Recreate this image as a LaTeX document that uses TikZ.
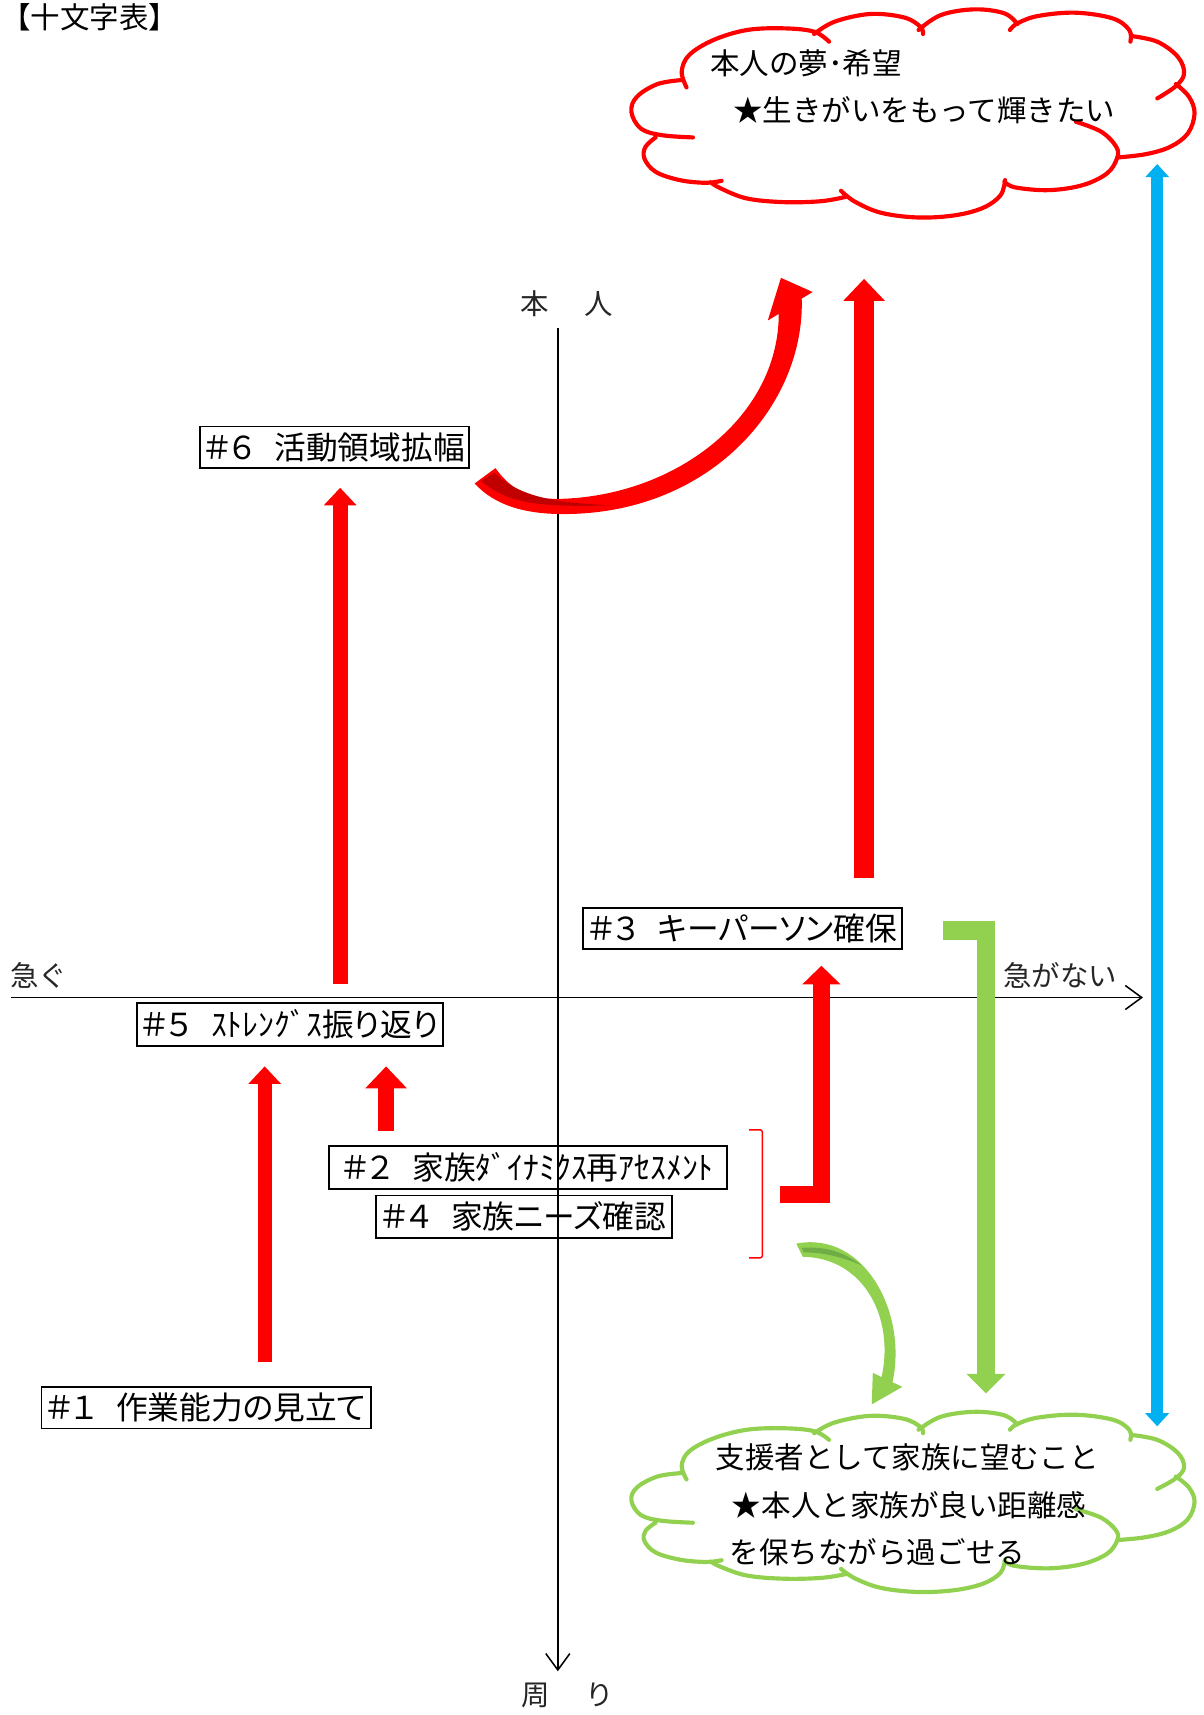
\documentclass[tikz,border=0pt]{standalone}
\usepackage{fontspec}
\setmainfont{Noto Sans CJK JP}
\newfontfamily\propfont[RawFeature={+palt}]{Noto Sans CJK JP}
\usetikzlibrary{arrows.meta}
\definecolor{cred}{RGB}{255,0,0}
\definecolor{cdred}{RGB}{192,0,0}
\definecolor{cgreen}{RGB}{146,208,80}
\definecolor{cdgreen}{RGB}{112,173,71}
\definecolor{cblue}{RGB}{0,176,240}
\newcommand{\cloudpuffs}{%
  plot[smooth,tension=0.6] coordinates {(165,240) (100,252) (45,290) (30,335) (55,385) (110,405) (195,412)}
  plot[smooth,tension=0.6] coordinates {(178,262) (165,215) (185,165) (250,120) (340,90) (440,85) (520,95) (560,125)}
  plot[smooth,tension=0.6] coordinates {(520,102) (575,65) (670,42) (760,52) (805,80) (812,102)}
  plot[smooth,tension=0.6] coordinates {(800,90) (860,45) (950,28) (1030,40) (1065,72)}
  plot[smooth,tension=0.6] coordinates {(1045,90) (1065,70) (1120,48) (1220,38) (1320,55) (1365,90) (1368,125)}
  plot[smooth,tension=0.6] coordinates {(1370,108) (1440,125) (1495,170) (1512,220) (1490,258) (1440,295)}
  plot[smooth,tension=0.6] coordinates {(1490,252) (1525,290) (1540,340) (1522,400) (1475,440) (1410,462) (1335,472)}
  plot[smooth,tension=0.6] coordinates {(1222,365) (1290,395) (1330,440) (1332,475) (1305,520) (1240,555) (1150,570) (1060,562) (1030,545)}
  plot[smooth,tension=0.6] coordinates {(1032,540) (1020,585) (975,622) (900,645) (800,652) (700,638) (630,605) (592,572)}
  plot[smooth,tension=0.6] coordinates {(605,590) (540,603) (440,606) (340,595) (270,565) (242,546)}
  plot[smooth,tension=0.6] coordinates {(95,412) (68,440) (65,475) (95,515) (160,540) (230,548) (272,542)}}
\newcommand{\tgap}{\hspace{18pt}}
\begin{document}
\begin{tikzpicture}[x=1pt,y=-1pt,
  txt/.style={inner sep=0pt, font=\fontsize{27}{30}\selectfont},
  axislbl/.style={inner sep=0pt, font=\fontsize{26}{30}\selectfont, text=black!85},
  taskbox/.style={draw=black, line width=1.7pt, inner sep=0pt, minimum height=38pt, font=\propfont\fontsize{29}{32}\selectfont},
  axisline/.style={line width=1.4pt, -{Straight Barb[length=15pt,width=22pt,line width=1.4pt]}},
  blk/.style n args={4}{draw=#1, line width=#2, line cap=butt, line join=miter,
     -{Triangle[length=#4,width=#3,line width=0pt,fill=#1]}},
  dblblk/.style n args={4}{draw=#1, line width=#2, line cap=butt,
     {Triangle[length=#4,width=#3,line width=0pt,fill=#1]}-{Triangle[length=#4,width=#3,line width=0pt,fill=#1]}},
  cloudline/.style={draw=#1, line width=3.8pt, line cap=round, line join=round}
]
\useasboundingbox (0,0) rectangle (1100,1568);

% title
\node[inner sep=0pt, anchor=west, font=\fontsize{27}{30}\selectfont] (title) at (1,16) {【十文字表】};

% axes
\coordinate (vtop) at (510,300);
\coordinate (vbot) at (510,1528);
\coordinate (hleft) at (10,912);
\coordinate (hright) at (1045,912);
\draw[axisline] (vtop) -- (vbot);
\draw[axisline] (hleft) -- (hright);
\node[axislbl] (lblhon) at (518,278) {本\hspace{33pt}人};
\node[axislbl] (lblmawari) at (519,1550) {周\hspace{33pt}り};
\node[axislbl, anchor=west] (lblisogu) at (9,892) {急ぐ};
\node[axislbl, anchor=west] (lblnot) at (917,892) {急がない};

% clouds
\begin{scope}[shift={(567,0)}, xscale=0.341, yscale=0.305]
  \draw[cloudline=cred] \cloudpuffs;
  \coordinate (dream) at (760,340);
\end{scope}
\node[txt, anchor=west] (dream1) at (649,58) {本人の夢･希望};
\node[txt, anchor=west] (dream2) at (670,101) {★生きがいをもって輝きたい};

\begin{scope}[shift={(567,1283.4)}, xscale=0.341, yscale=0.264]
  \draw[cloudline=cgreen] \cloudpuffs;
  \coordinate (family) at (760,340);
\end{scope}
\node[txt, anchor=west] (fam1) at (654,1332) {支援者として家族に望むこと};
\node[txt, anchor=west] (fam2) at (669,1376) {★本人と家族が良い距離感};
\node[txt, anchor=west] (fam3) at (667,1419) {を保ちながら過ごせる};

% task boxes
\node[taskbox, minimum width=246pt] (t6) at (306,409) {＃６\tgap 活動領域拡幅};
\node[taskbox, minimum width=292pt] (t3) at (679,849) {＃３\tgap キーパーソン確保};
\node[taskbox, minimum width=280pt, minimum height=39pt] (t5) at (265,936.5) {＃５\tgap ｽﾄﾚﾝｸﾞｽ振り返り};
\node[taskbox, minimum width=364pt, minimum height=39pt] (t2) at (483,1067.5) {＃２\tgap 家族ﾀﾞｲﾅﾐｸｽ再ｱｾｽﾒﾝﾄ};
\node[taskbox, minimum width=270pt, minimum height=39pt] (t4) at (479,1112.5) {＃４\tgap 家族ニーズ確認};
\node[taskbox, minimum width=301pt] (t1) at (188.5,1287) {＃１\tgap 作業能力の見立て};

% red block arrows
\coordinate (r1s) at (242,1245); \coordinate (r1e) at (242,975);
\draw[blk={cred}{13pt}{30pt}{16pt}] (r1s) -- (r1e);
\coordinate (r2s) at (353,1034); \coordinate (r2e) at (353,975);
\draw[blk={cred}{15pt}{38pt}{20pt}] (r2s) -- (r2e);
\coordinate (r3s) at (311,900); \coordinate (r3e) at (311,446);
\draw[blk={cred}{14pt}{30pt}{16pt}] (r3s) -- (r3e);
\coordinate (r4s) at (790,803); \coordinate (r4e) at (790,255);
\draw[blk={cred}{18pt}{38pt}{20pt}] (r4s) -- (r4e);
\coordinate (r5s) at (713,1092); \coordinate (r5e) at (751,883);
\draw[blk={cred}{16pt}{35pt}{17pt}] (r5s) -| (r5e);

% red bracket
\draw[cred, line width=1.3pt, rounded corners=2pt] (685,1033) -- (697,1033) -- (697,1150) -- (685,1150);

% green bent arrow
\coordinate (g1s) at (862,850.5); \coordinate (g1e) at (901.5,1274);
\draw[blk={cgreen}{17pt}{36pt}{18pt}] (g1s) -| (g1e);

% blue double arrow
\coordinate (b1s) at (1058,150); \coordinate (b1e) at (1058,1304);
\draw[dblblk={cblue}{11pt}{22pt}{12pt}] (b1s) -- (b1e);

% red curved arrow (#6 -> dream)
\fill[cred] (453,428) .. controls (470,452) and (490,457) .. (515,456)
  .. controls (620,452) and (712,380) .. (712,287)
  -- (702,293) -- (714,254) -- (743,267) -- (733,273)
  .. controls (736,370) and (650,470) .. (515,470)
  .. controls (480,470) and (452,462) .. (434,442) -- cycle;
\fill[cdred] (440,440) .. controls (465,460) and (490,464) .. (560,462)
  .. controls (510,460) and (475,455) .. (452,432) -- cycle;

% green curved arrow (family needs -> family cloud)
\fill[cgreen] (728,1137) .. controls (790,1125) and (830,1200) .. (816,1263.7)
  -- (825,1268) -- (797,1284) -- (798,1255) -- (806,1259)
  .. controls (818,1205) and (790,1150) .. (734,1149) -- cycle;
\fill[cdgreen] (733,1141) .. controls (755,1139) and (772,1145) .. (788,1157)
  .. controls (770,1149) and (752,1145) .. (735,1145) -- cycle;
\end{tikzpicture}
\end{document}
